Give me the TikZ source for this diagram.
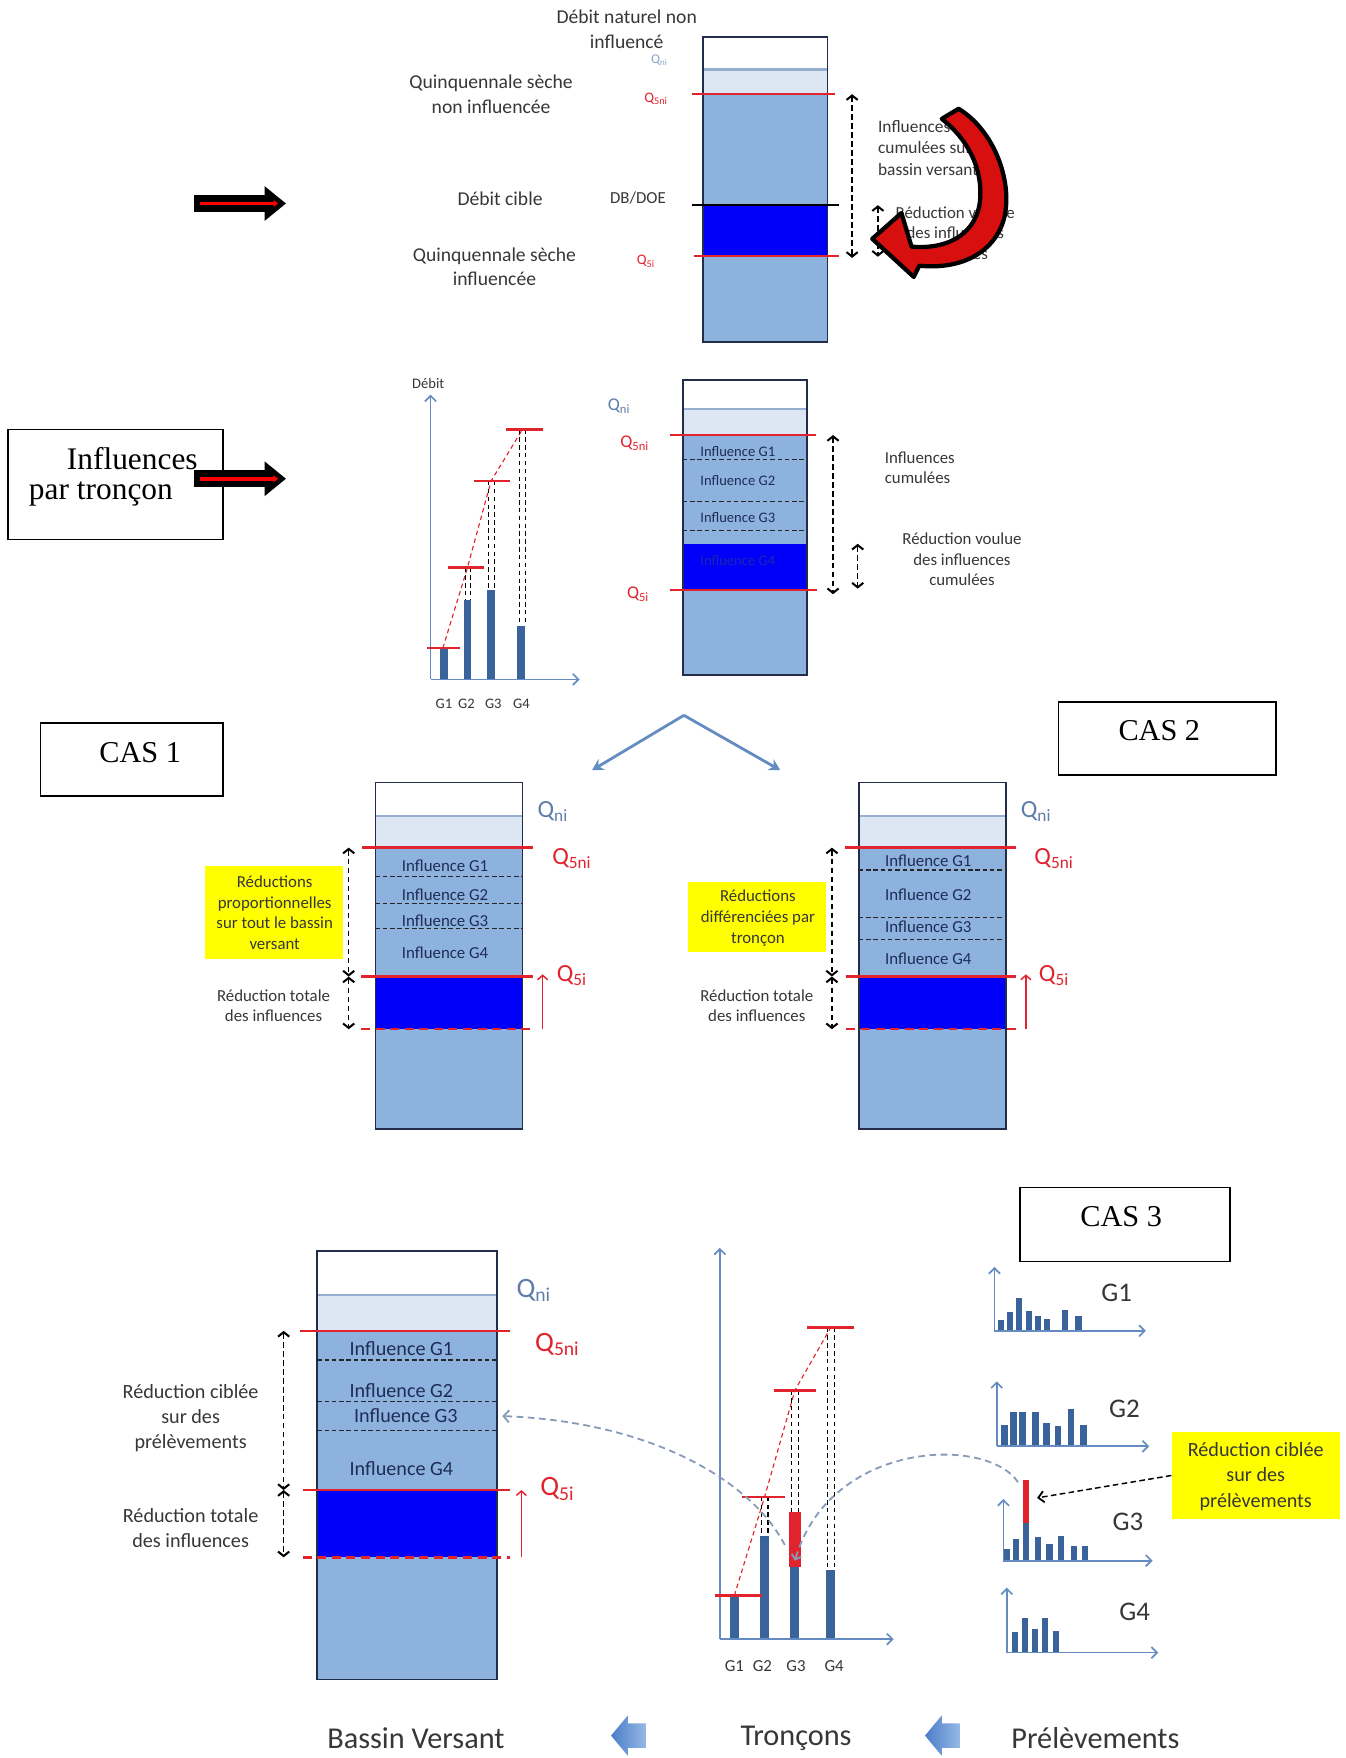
\documentclass[tikz,border=0pt]{standalone}
\usepackage{fontspec}
\setmainfont{Carlito}
\newfontfamily\tnr{Liberation Serif}
\usetikzlibrary{arrows.meta}
\definecolor{colblue}{RGB}{142,178,222}
\definecolor{lightband}{RGB}{221,231,243}
\definecolor{bandline}{RGB}{150,175,208}
\definecolor{deepblue}{RGB}{0,0,250}
\definecolor{colborder}{RGB}{35,45,75}
\definecolor{qred}{RGB}{225,35,45}
\definecolor{barblue}{RGB}{58,98,155}
\definecolor{axisblue}{RGB}{100,140,195}
\definecolor{qblue}{RGB}{95,125,170}
\definecolor{qbluel}{RGB}{140,165,205}
\definecolor{txt}{RGB}{55,55,55}
\definecolor{infnavy}{RGB}{30,45,85}
\definecolor{infdeep}{RGB}{30,40,170}
\definecolor{hiyellow}{RGB}{255,255,0}
\definecolor{arrred}{RGB}{215,15,15}
\definecolor{curvecol}{RGB}{135,155,185}
\newcommand\fs[2]{\fontsize{#1}{#2}\selectfont}
\newcommand\Qx[1]{Q\textsubscript{#1}}
\newcommand\watercol[6]{%
  \fill[white] (#1,#3) rectangle (#2,#4);
  \fill[lightband] (#1,#4) rectangle (#2,#5);
  \fill[colblue] (#1,#5) rectangle (#2,#6);
  \draw[bandline, line width=2pt] (#1,#4) -- (#2,#4);}
\newcommand\colframe[4]{\draw[colborder, line width=1.6pt] (#1,#2) rectangle (#3,#4);}
\newcommand\fatarrow[2]{%
  \fill[black] (#1,#2-7.5) rectangle (#1+64,#2+7.5);
  \fill[black] (#1+63,#2-15.5) -- (#1+82,#2) -- (#1+63,#2+15.5) -- cycle;
  \draw[red, line width=3.2pt, -{Triangle[length=4pt,width=6pt]}] (#1+5,#2) -- (#1+75,#2);}
\newcommand\minichart[5]{%
  \foreach \cx/\hh in {#5} {\fill[barblue] (\cx-2.8,#2) rectangle (\cx+2.8,#2-\hh);}
  \draw[axisl] (#1,#2) -- (#1,#3);
  \draw[axisl] (#1,#2) -- (#4,#2);}
\newcommand\bluearrow[2]{%
  \shade[left color={rgb,255:red,75;green,125;blue,200}, right color={rgb,255:red,150;green,185;blue,230}]
   (#1,#2) -- (#1+15,#2-18) -- (#1+15,#2-11) -- (#1+31,#2-11) -- (#1+31,#2+11) -- (#1+15,#2+11) -- (#1+15,#2+18) -- cycle;}
\tikzset{
  tx/.style={inner sep=0pt, text=txt, align=center},
  qline/.style={draw=qred, line width=2pt},
  qdash/.style={draw=qred, line width=2.2pt, dash pattern=on 8pt off 5pt},
  infdash/.style={draw=black!85, line width=1.1pt, dash pattern=on 4pt off 2.5pt},
  dblarr/.style={draw=black, line width=1.4pt, dash pattern=on 5pt off 3pt,
     {Straight Barb[length=4pt,width=10pt,line width=1.8pt]}-{Straight Barb[length=4pt,width=10pt,line width=1.8pt]}},
  uparr/.style={draw=qred, line width=1.3pt, -{Straight Barb[length=4pt,width=9pt]}},
  axisl/.style={draw=axisblue, line width=1.5pt, -{Straight Barb[length=5pt,width=10pt]}},
  redtick/.style={draw=qred, line width=2.2pt},
  reddash/.style={draw=qred, line width=1pt, dash pattern=on 4pt off 3pt},
  bkdash/.style={draw=black, line width=1pt, dash pattern=on 4pt off 3pt},
  curv/.style={draw=curvecol, line width=1.6pt, dash pattern=on 6pt off 4pt},
  varrow/.style={draw=axisblue, line width=2.5pt, -{Stealth[length=10pt,width=11pt]}},
  casbox/.style={draw=black, line width=1.4pt, inner sep=0pt},
  yel/.style={fill=hiyellow, inner sep=0pt},
}
\begin{document}
\begin{tikzpicture}[x=1pt,y=-1pt]
\useasboundingbox (0,0) rectangle (1200,1568);
\fill[white] (0,0) rectangle (1200,1568);

% ================= Section 1 =================
\watercol{627}{738}{33}{62}{84}{305}
\fill[deepblue] (627,183) rectangle (738,228);
\colframe{627}{33}{738}{305}
\draw[qline] (617,84) -- (745,84);
\draw[black, line width=1.8pt] (617,183) -- (748,183);
\draw[qline] (619,228) -- (748,228);

\node[tx, font=\fs{17.5}{22}] (titre) at (559,26) {Débit naturel non\\influencé};
\node[tx, font=\fs{17.5}{22}] (qnonlab) at (438,84) {Quinquennale sèche\\non influencée};
\node[tx, font=\fs{17.5}{22}] (cible) at (446,177) {Débit cible};
\node[tx, font=\fs{17.5}{22}] (qinflab) at (441,238) {Quinquennale sèche\\influencée};
\node[tx, font=\fs{15}{18}] (dbdoe) at (569,177) {DB/DOE};
\node[tx, text=qbluel, font=\fs{12}{14}] (sAqni) at (588,54) {\Qx{ni}};
\node[tx, text=qred, font=\fs{13}{15}] (sAqfni) at (585,88) {\Qx{5ni}};
\node[tx, text=qred, font=\fs{13}{15}] (sAqfi) at (576,233) {\Qx{5i}};
\node[tx, align=left, anchor=west, font=\fs{15.5}{19}] (sAinf) at (783,132) {Influences\\cumulées sur le\\bassin versant};
\node[tx, font=\fs{15}{18.5}] (sAred) at (852,208) {Réduction voulue\\des influences\\cumulées};
\coordinate (sAa) at (760,84); \coordinate (sAb) at (760,230);
\draw[dblarr] (sAa) -- (sAb);
\coordinate (sAc) at (783,183); \coordinate (sAd) at (783,229);
\draw[dblarr] (sAc) -- (sAd);

% red curved arrow
\draw[black, line width=3.8pt, fill=arrred, line join=round]
  (840,106) -- (855,97)
  .. controls (886,116) and (903,160) .. (896,193)
  .. controls (889,223) and (860,241) .. (820,237)
  -- (815,247) -- (778,213) -- (804,190) -- (813,220)
  .. controls (850,223) and (871,205) .. (874,180)
  .. controls (877,150) and (863,124) .. (840,106) -- cycle;

\fatarrow{173}{181.5}

% ================= Section 2 =================
\node[casbox, minimum width=192pt, minimum height=98pt] (boxinf) at (103,432) {};
\node[tx, text=black, font=\tnr\fs{28}{32}] (infA) at (118,409) {Influences};
\node[tx, text=black, font=\tnr\fs{28}{32}] (infB) at (90,441) {par tronçon};
\fatarrow{173}{427}

% chart
\foreach \bx/\bt in {396/578, 417/535, 438/526, 465/558}
  \fill[barblue] (\bx-3.5,606) rectangle (\bx+3.5,\bt);
\coordinate (cho) at (384,606);
\coordinate (chy) at (384,352);
\coordinate (chx) at (517,606);
\draw[axisl] (cho) -- (chy);
\draw[axisl] (cho) -- (chx);
\draw[reddash] (395,578) -- (417,506) -- (438,429) -- (466,383);
\foreach \xa/\ya/\yb in {415/506/535, 420/506/535, 436/429/526, 441/429/526, 463/383/558, 469/383/558}
  \draw[bkdash] (\xa,\ya) -- (\xa,\yb);
\draw[redtick] (381,578) -- (410,578);
\draw[redtick] (400,506) -- (432,506);
\draw[redtick] (423,429) -- (455,429);
\draw[redtick] (451,383) -- (484,383);
\node[tx, font=\fs{13}{15}] (debit) at (382,342) {Débit};
\node[tx, font=\fs{13}{15}] (gA1) at (396,628) {G1};
\node[tx, font=\fs{13}{15}] (gA2) at (416,628) {G2};
\node[tx, font=\fs{13}{15}] (gA3) at (440,628) {G3};
\node[tx, font=\fs{13}{15}] (gA4) at (465,628) {G4};

% column
\watercol{609}{720}{339}{365}{388}{602}
\foreach \yy in {410,447,473} \draw[infdash] (609,\yy) -- (720,\yy);
\fill[deepblue] (609,485) rectangle (720,525);
\colframe{609}{339}{720}{602}
\draw[qline] (598,388) -- (728,388);
\draw[qline] (598,526) -- (729,526);
\node[tx, text=infnavy, font=\fs{13}{15}] (sBg1) at (658,403) {Influence G1};
\node[tx, text=infnavy, font=\fs{13}{15}] (sBg2) at (658,429) {Influence G2};
\node[tx, text=infnavy, font=\fs{13}{15}] (sBg3) at (658,462) {Influence G3};
\node[tx, text=infdeep, font=\fs{13}{15}] (sBg4) at (658,500) {Influence G4};
\node[tx, text=qblue, font=\fs{16}{18}] (sBqni) at (552,362) {\Qx{ni}};
\node[tx, text=qred, font=\fs{16}{18}] (sBqfni) at (566,395) {\Qx{5ni}};
\node[tx, text=qred, font=\fs{16}{18}] (sBqfi) at (569,530) {\Qx{5i}};
\coordinate (sBa) at (743,388); \coordinate (sBb) at (743,530);
\draw[dblarr] (sBa) -- (sBb);
\coordinate (sBc) at (765,485); \coordinate (sBd) at (765,525);
\draw[dblarr] (sBc) -- (sBd);
\node[tx, align=left, anchor=west, font=\fs{15}{18}] (sBinf) at (789,417) {Influences\\cumulées};
\node[tx, font=\fs{15}{18.5}] (sBred) at (858,499) {Réduction voulue\\des influences\\cumulées};

% V arrows
\coordinate (vtop) at (610,638);
\coordinate (vleft) at (528,687);
\coordinate (vright) at (696,687);
\draw[varrow] (vtop) -- (vleft);
\draw[varrow] (vtop) -- (vright);

% CAS boxes
\node[casbox, minimum width=163pt, minimum height=65pt] (cas1) at (117.5,677.5) {};
\node[tx, text=black, font=\tnr\fs{27}{30}] (cas1t) at (125,671) {CAS 1};
\node[casbox, minimum width=194pt, minimum height=65pt] (cas2) at (1041,658.5) {};
\node[tx, text=black, font=\tnr\fs{27}{30}] (cas2t) at (1034,652) {CAS 2};
\node[casbox, minimum width=187pt, minimum height=66pt] (cas3) at (1003.5,1092) {};
\node[tx, text=black, font=\tnr\fs{27}{30}] (cas3t) at (1000,1085) {CAS 3};

% ================= CAS 1 =================
\watercol{335}{466}{698}{728}{756}{1007}
\foreach \yy in {782,806,828} \draw[infdash] (335,\yy) -- (466,\yy);
\fill[deepblue] (335,871) rectangle (466,918);
\colframe{335}{698}{466}{1007}
\draw[qline] (323,756) -- (475,756);
\draw[qline] (322,871) -- (475,871);
\draw[qdash] (322,918) -- (475,918);
\node[tx, text=infnavy, font=\fs{15}{17}] (cAg1) at (397,772) {Influence G1};
\node[tx, text=infnavy, font=\fs{15}{17}] (cAg2) at (397,798) {Influence G2};
\node[tx, text=infnavy, font=\fs{15}{17}] (cAg3) at (397,821) {Influence G3};
\node[tx, text=infnavy, font=\fs{15}{17}] (cAg4) at (397,850) {Influence G4};
\node[tx, text=qblue, font=\fs{22}{24}] (cAqni) at (493,724) {\Qx{ni}};
\node[tx, text=qred, font=\fs{22}{24}] (cAqfni) at (510,766) {\Qx{5ni}};
\node[tx, text=qred, font=\fs{22}{24}] (cAqfi) at (510,870) {\Qx{5i}};
\coordinate (cAu1) at (484,918); \coordinate (cAu2) at (484,869);
\draw[uparr] (cAu1) -- (cAu2);
\coordinate (cAa) at (311,756); \coordinate (cAb) at (311,871); \coordinate (cAc) at (311,918);
\draw[dblarr] (cAa) -- (cAb);
\draw[dblarr] (cAb) -- (cAc);
\node[yel, minimum width=123pt, minimum height=83pt] (cAyel) at (244.5,813.5) {};
\node[tx, font=\fs{15}{18.3}] (cAyt) at (245,814) {Réductions\\proportionnelles\\sur tout le bassin\\versant};
\node[tx, font=\fs{15}{18}] (cAtot) at (244,897) {Réduction totale\\des influences};

% ================= CAS 2 =================
\watercol{766}{897}{698}{728}{756}{1007}
\foreach \yy in {776,818,838} \draw[infdash] (766,\yy) -- (897,\yy);
\fill[deepblue] (766,871) rectangle (897,918);
\colframe{766}{698}{897}{1007}
\draw[qline] (754,756) -- (906,756);
\draw[qline] (755,871) -- (906,871);
\draw[qdash] (755,918) -- (906,918);
\node[tx, text=infnavy, font=\fs{15}{17}] (cBg1) at (828,768) {Influence G1};
\node[tx, text=infnavy, font=\fs{15}{17}] (cBg2) at (828,798) {Influence G2};
\node[tx, text=infnavy, font=\fs{15}{17}] (cBg3) at (828,827) {Influence G3};
\node[tx, text=infnavy, font=\fs{15}{17}] (cBg4) at (828,855) {Influence G4};
\node[tx, text=qblue, font=\fs{22}{24}] (cBqni) at (924,724) {\Qx{ni}};
\node[tx, text=qred, font=\fs{22}{24}] (cBqfni) at (940,766) {\Qx{5ni}};
\node[tx, text=qred, font=\fs{22}{24}] (cBqfi) at (940,870) {\Qx{5i}};
\coordinate (cBu1) at (915,918); \coordinate (cBu2) at (915,869);
\draw[uparr] (cBu1) -- (cBu2);
\coordinate (cBa) at (742,756); \coordinate (cBb) at (742,871); \coordinate (cBc) at (742,918);
\draw[dblarr] (cBa) -- (cBb);
\draw[dblarr] (cBb) -- (cBc);
\node[yel, minimum width=123pt, minimum height=62pt] (cByel) at (675.5,818) {};
\node[tx, font=\fs{15}{18.5}] (cByt) at (676,819) {Réductions\\différenciées par\\tronçon};
\node[tx, font=\fs{15}{18}] (cBtot) at (675,897) {Réduction totale\\des influences};

% ================= CAS 3 =================
\watercol{283}{443}{1116}{1155}{1187}{1498}
\foreach \yy in {1213,1250,1276} \draw[infdash] (283,\yy) -- (443,\yy);
\fill[deepblue] (283,1329) rectangle (443,1389);
\colframe{283}{1116}{443}{1498}
\draw[qline] (268,1187) -- (455,1187);
\draw[qline] (270,1329) -- (455,1329);
\draw[qdash] (270,1389) -- (455,1389);
\node[tx, text=infnavy, font=\fs{18}{20}] (cCg1) at (358,1203) {Influence G1};
\node[tx, text=infnavy, font=\fs{18}{20}] (cCg2) at (358,1240) {Influence G2};
\node[tx, text=infnavy, font=\fs{18}{20}] (cCg3) at (362,1263) {Influence G3};
\node[tx, text=infnavy, font=\fs{18}{20}] (cCg4) at (358,1310) {Influence G4};
\node[tx, text=qblue, font=\fs{25}{27}] (cCqni) at (476,1151) {\Qx{ni}};
\node[tx, text=qred, font=\fs{25}{27}] (cCqfni) at (497,1199) {\Qx{5ni}};
\node[tx, text=qred, font=\fs{25}{27}] (cCqfi) at (497,1328) {\Qx{5i}};
\coordinate (cCu1) at (465,1389); \coordinate (cCu2) at (465,1329);
\draw[uparr] (cCu1) -- (cCu2);
\coordinate (cCa) at (253,1187); \coordinate (cCb) at (253,1329); \coordinate (cCc) at (253,1389);
\draw[dblarr] (cCa) -- (cCb);
\draw[dblarr] (cCb) -- (cCc);
\node[tx, font=\fs{18}{22.5}] (cCcib) at (170,1265) {Réduction ciblée\\sur des\\prélèvements};
\node[tx, font=\fs{18}{22}] (cCtot) at (170,1363) {Réduction totale\\des influences};

% middle chart
\foreach \bx/\bt in {655/1423, 682/1370, 709/1398, 741/1400}
  \fill[barblue] (\bx-4,1462) rectangle (\bx+4,\bt);
\fill[qred] (704,1349) rectangle (714,1398);
\coordinate (mco) at (642,1462);
\coordinate (mcy) at (642,1113);
\coordinate (mcx) at (797,1462);
\draw[axisl] (mco) -- (mcy);
\draw[axisl] (mco) -- (mcx);
\draw[reddash] (655,1423) -- (682,1335) -- (709,1240) -- (741,1184);
\foreach \xa/\ya/\yb in {679/1335/1370, 685/1335/1370, 706/1240/1349, 712/1240/1349, 738/1184/1400, 744/1184/1400}
  \draw[bkdash] (\xa,\ya) -- (\xa,\yb);
\draw[redtick] (638,1423) -- (680,1423);
\draw[redtick] (662,1335) -- (700,1335);
\draw[redtick] (690,1240) -- (728,1240);
\draw[redtick] (720,1184) -- (762,1184);
\node[tx, font=\fs{15}{17}] (gB1) at (655,1486) {G1};
\node[tx, font=\fs{15}{17}] (gB2) at (680,1486) {G2};
\node[tx, font=\fs{15}{17}] (gB3) at (710,1486) {G3};
\node[tx, font=\fs{15}{17}] (gB4) at (744,1486) {G4};

% mini charts
\minichart{887}{1187}{1130}{1022}{893/10, 901/17, 909/29, 918/18, 926/13, 934/11, 950/19, 962/13}
\minichart{889}{1290}{1232}{1025}{896/19, 904/31, 912/31, 923.5/31, 933.5/21, 943.5/18, 955.5/33, 966.5/19}
\minichart{895}{1392}{1337}{1028}{898/10, 906/19, 915/34, 925.5/21, 936/15, 946/22, 958/13, 967.5/13}
\fill[qred] (912,1320) rectangle (918,1358);
\minichart{898}{1474}{1416}{1033}{905/18, 914/31, 923/21, 932/31, 942/19}
\node[tx, font=\fs{24}{26}] (pG1) at (996,1153) {G1};
\node[tx, font=\fs{24}{26}] (pG2) at (1003,1257) {G2};
\node[tx, font=\fs{24}{26}] (pG3) at (1006,1357) {G3};
\node[tx, font=\fs{24}{26}] (pG4) at (1012,1438) {G4};

% dashed curves
\coordinate (pg3top) at (908,1322);
\coordinate (mg3) at (709,1392);
\coordinate (mg3b) at (700,1378);
\coordinate (bvg3) at (448,1263);
\draw[curv, -{Straight Barb[length=4pt,width=9pt]}] (pg3top) .. controls (880,1280) and (740,1285) .. (mg3);
\draw[curv, -{Straight Barb[length=5pt,width=11pt]}] (mg3b) .. controls (670,1320) and (580,1268) .. (bvg3);

% yellow box right
\node[yel, minimum width=150pt, minimum height=78pt] (pyel) at (1120,1316) {};
\node[tx, font=\fs{18}{22.5}] (pyt) at (1120,1317) {Réduction ciblée\\sur des\\prélèvements};
\coordinate (predtip) at (925,1336);
\draw[black, line width=1.3pt, dash pattern=on 5pt off 3pt, -{Straight Barb[length=5pt,width=10pt,line width=1.6pt]}] (pyel.west) -- (predtip);

% bottom
\node[tx, font=\fs{27}{30}] (bv) at (371,1550) {Bassin Versant};
\node[tx, font=\fs{27}{30}] (tr) at (710,1550) {Tronçons};
\node[tx, font=\fs{27}{30}] (pr) at (977,1550) {Prélèvements};
\bluearrow{545}{1548}
\bluearrow{825}{1548}
\end{tikzpicture}
\end{document}
